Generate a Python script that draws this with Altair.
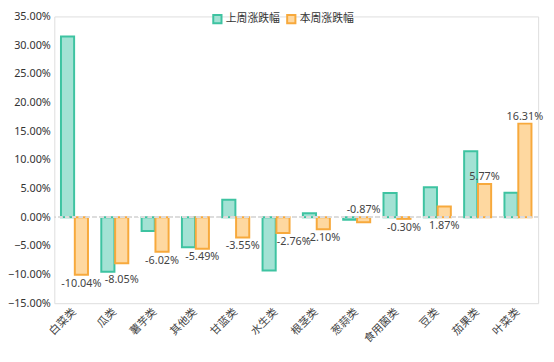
import altair as alt
import pandas as pd

categories = ["白菜类", "瓜类", "薯芋类", "其他类", "甘蓝类", "水生类", "根茎类", "葱蒜类", "食用菌类", "豆类", "茄果类", "叶菜类"]
last_week = [31.5, -9.5, -2.4, -5.25, 3.05, -9.3, 0.68, -0.45, 4.2, 5.2, 11.5, 4.24]
this_week = [-10.04, -8.05, -6.02, -5.49, -3.55, -2.76, -2.10, -0.87, -0.30, 1.87, 5.77, 16.31]
series = ["上周涨跌幅", "本周涨跌幅"]
y_ticks = [-0.15, -0.10, -0.05, 0.0, 0.05, 0.10, 0.15, 0.20, 0.25, 0.30, 0.35]

FONT = "Noto Sans CJK SC"
NUMFONT = "Noto Sans"
fills = ["#a3e2d4", "#fed8a0"]
strokes = ["#3ec3a1", "#f7a93c"]

rows = []
for c, a, b in zip(categories, last_week, this_week):
    rows.append({"cat": c, "series": series[0], "v": a / 100})
    rows.append({"cat": c, "series": series[1], "v": b / 100})
df = pd.DataFrame(rows)

# label placement derived from the values (avoid overlapping the neighbouring bar)
sides, anchors = [], []
for c, a, b in zip(categories, last_week, this_week):
    if b > 3:
        sides.append("above"); anchors.append(b / 100)
    elif c == "葱蒜类":
        sides.append("above"); anchors.append(0.0)
    elif b < 0 and a < b and (b - a) <= 2:
        sides.append("below"); anchors.append(a / 100)
    elif b < 0 and a < b:
        sides.append("below_shift"); anchors.append(b / 100)
    else:
        sides.append("below"); anchors.append(min(b, 0) / 100)

lab = pd.DataFrame({"cat": categories, "series": series[1],
                    "label": [f"{b:.2f}%" for b in this_week],
                    "side": sides, "anchor": anchors})

y_scale = alt.Scale(domain=[y_ticks[0], y_ticks[-1]], nice=False)

bars = alt.Chart(df).mark_bar(strokeWidth=2).encode(
    x=alt.X("cat:N", sort=categories, title=None,
            scale=alt.Scale(paddingInner=0.33, paddingOuter=0.165),
            axis=alt.Axis(labelAngle=315, labelAlign="right", labelBaseline="middle",
                          domain=False, ticks=False, labelPadding=7,
                          labelFontSize=11, labelColor="#444", labelFont=FONT)),
    xOffset=alt.XOffset("series:N", sort=series,
                        scale=alt.Scale(domain=series, paddingInner=0.05)),
    y=alt.Y("v:Q", scale=y_scale, title=None,
            axis=alt.Axis(values=y_ticks, tickCount=len(y_ticks) + 2, format=".2%",
                          domain=False, ticks=False, grid=False, labelOverlap=False,
                          labelFontSize=11, labelColor="#333", labelFont=NUMFONT,
                          labelPadding=4)),
    fill=alt.Fill("series:N", sort=series,
                  scale=alt.Scale(domain=series, range=fills),
                  legend=alt.Legend(title=None, orient="none", direction="horizontal",
                                    legendX=160, legendY=-3, symbolType="square",
                                    symbolSize=70, symbolStrokeWidth=2,
                                    labelFontSize=11, labelColor="#333", labelFont=FONT,
                                    columnPadding=3, labelOffset=3)),
    stroke=alt.Stroke("series:N", sort=series,
                      scale=alt.Scale(domain=series, range=strokes)),
)

zero = alt.Chart(df).mark_rule(color="#dcdcdc", strokeDash=[4, 3]).encode(
    y=alt.datum(0, scale=y_scale))

text_base = alt.Chart(lab).encode(
    x=alt.X("cat:N", sort=categories),
    xOffset=alt.XOffset("series:N", sort=series),
    y=alt.Y("anchor:Q", scale=y_scale),
    text="label:N",
)
text_below = text_base.transform_filter(alt.datum.side == "below").mark_text(
    baseline="top", dy=3, fontSize=11, color="#444", font=NUMFONT)
text_shift = text_base.transform_filter(alt.datum.side == "below_shift").mark_text(
    baseline="top", dy=3, dx=11, fontSize=11, color="#444", font=NUMFONT)
text_above = text_base.transform_filter(alt.datum.side == "above").mark_text(
    baseline="bottom", dy=-2, fontSize=11, color="#444", font=NUMFONT)

chart = alt.layer(bars, zero, text_below, text_shift, text_above).properties(
    width=491, height=291,
    autosize=alt.AutoSizeParams(type="none"),
    padding={"left": 47, "top": 6, "right": 8, "bottom": 50},
).configure_view(stroke="#dcdcdc", strokeDash=[4, 3]).configure(font=FONT)

chart.save("out.html", embed_options={"renderer": "svg", "actions": False})
